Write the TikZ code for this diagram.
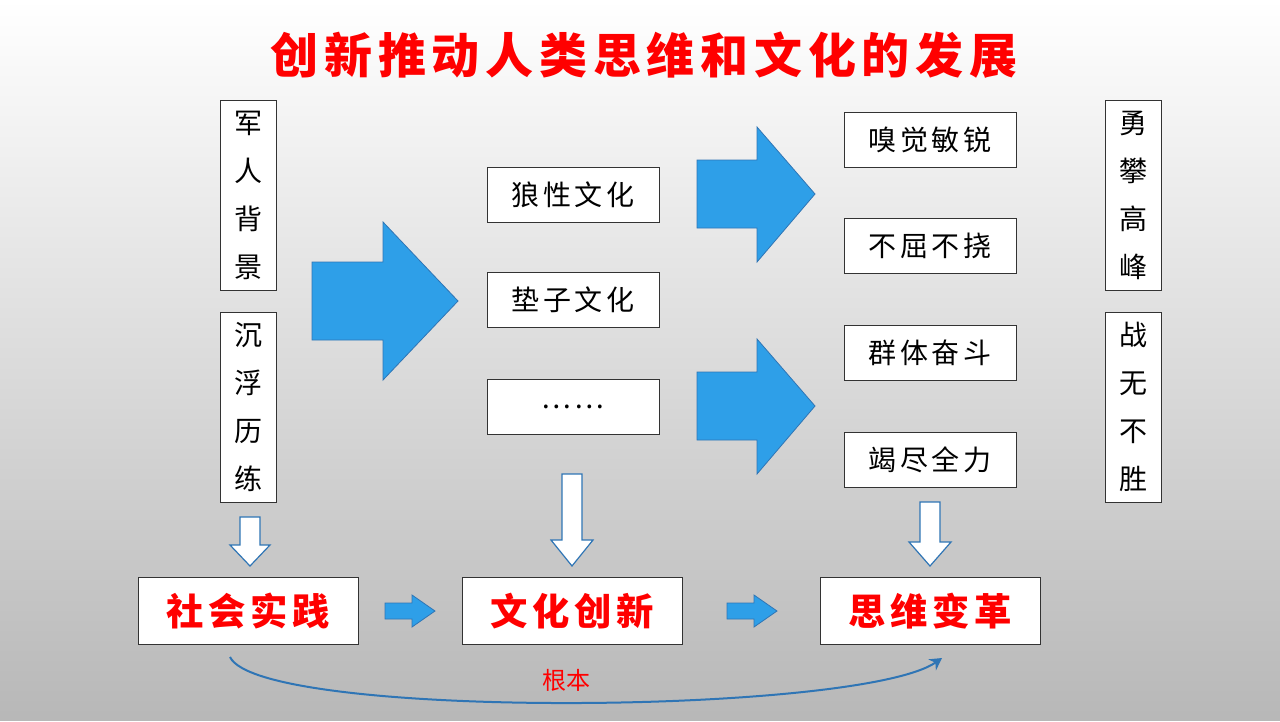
\documentclass[tikz,border=0pt]{standalone}
\usepackage{fontspec}
\usetikzlibrary{arrows.meta}
\newfontfamily\cjk{Noto Sans CJK SC}
\newfontfamily\cjkwide{Noto Sans CJK SC}[LetterSpace=12]
\definecolor{arrowblue}{HTML}{2E9FE8}
\definecolor{edgeblue}{HTML}{2F75B5}
\begin{document}
\begin{tikzpicture}[x=0.75pt,y=-0.75pt]
		\tikzset{box/.style = {draw=black!80, fill=white, font=\cjkwide\fontsize{21}{36}\selectfont, inner sep=0pt}}
		\tikzset{vbox/.style = {box, font=\cjk\fontsize{21}{36}\selectfont, minimum width=42pt, minimum height=142.5pt, align=center}}
		\tikzset{hbox/.style = {box, minimum width=129pt, minimum height=41pt}}
		\tikzset{keybox/.style = {box, minimum width=165pt, minimum height=50pt, text=red, font=\cjkwide\bfseries\fontsize{28}{30}\selectfont}}
		\tikzset{bigarrow/.style = {fill=arrowblue, draw=edgeblue, line width=0.6pt}}
		\tikzset{hollow/.style = {fill=white, draw=edgeblue, line width=0.9pt}}
		\tikzset{link/.style = {draw=edgeblue, line width=1.5pt, -{Stealth[length=9pt,width=10pt]}}}
		
		\shade[top color=white, bottom color=black!28] (0,0) rectangle (1280,720);
		\node[text=red, font=\cjkwide\bfseries\fontsize{36}{40}\selectfont] (title) at (644,55) {创新推动人类思维和文化的发展};
		
		\node[vbox]  (bg) at ( 248, 195) {军\\人\\背\\景};
		\node[vbox]  (lx) at ( 248, 407) {沉\\浮\\历\\练};
		\node[vbox]  (ypf) at (1133, 195) {勇\\攀\\高\\峰};
		\node[vbox]  (zwbs) at (1133, 407) {战\\无\\不\\胜};
		
		\node[hbox]  (lx1) at ( 573, 195) {狼性文化};
		\node[hbox]  (dz) at ( 573, 300) {垫子文化};
		\node[hbox]  (dots) at ( 573, 407) {……};
		
		\node[hbox]  (xj) at ( 930, 140) {嗅觉敏锐};
		\node[hbox]  (bq) at ( 930, 246) {不屈不挠};
		\node[hbox]  (qt) at ( 930, 353) {群体奋斗};
		\node[hbox]  (jj) at ( 930, 460) {竭尽全力};
		
		\node[keybox] (sj) at ( 248, 611) {社会实践};
		\node[keybox] (cx) at ( 572, 611) {文化创新};
		\node[keybox] (bg2) at ( 930, 611) {思维变革};
		
		% big arrows
		\draw[bigarrow] (312,262) -- (383,262) -- (383,222) -- (458,301) -- (383,380) -- (383,340) -- (312,340) -- cycle;
		\draw[bigarrow] (697,160) -- (757,160) -- (757,127) -- (815,194) -- (757,262) -- (757,228) -- (697,228) -- cycle;
		\draw[bigarrow] (697,372) -- (757,372) -- (757,339) -- (815,406) -- (757,474) -- (757,440) -- (697,440) -- cycle;
		
		% hollow arrows
		\draw[hollow] (240,517) -- (260,517) -- (260,545) -- (270,545) -- (250,566) -- (230,545) -- (240,545) -- cycle;
		\draw[hollow] (562,474) -- (582,474) -- (582,540) -- (593,540) -- (572,566) -- (551,540) -- (562,540) -- cycle;
		\draw[hollow] (920,502) -- (940,502) -- (940,542) -- (951,542) -- (930,566) -- (909,542) -- (920,542) -- cycle;
		
		% small arrows
		\draw[bigarrow] (385,603) -- (412,603) -- (412,595) -- (435,611) -- (412,627) -- (412,619) -- (385,619) -- cycle;
		\draw[bigarrow] (727,603) -- (754,603) -- (754,595) -- (777,611) -- (754,627) -- (754,619) -- (727,619) -- cycle;
		
		\coordinate (from) at (230,657);
		\coordinate (to) at (942,658);
		\draw[link] (from) .. controls (260,720) and (860,715) .. node[pos=0.5, above=4pt, text=red, font=\cjk\fontsize{18}{20}\selectfont] (gb) {根本} (to);
\end{tikzpicture}
\end{document}
